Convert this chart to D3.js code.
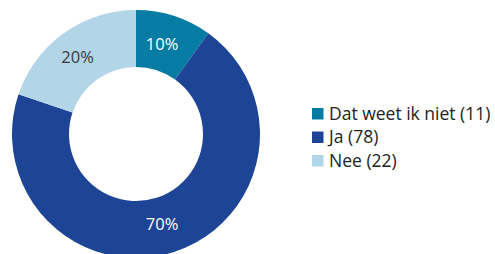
<!DOCTYPE html>
<html>
<head>
<meta charset="utf-8">
<script src="https://cdn.jsdelivr.net/npm/d3@7"></script>
<style>
  body { margin: 0; background: #fff; }
  svg { display: block; font-family: 'Open Sans', sans-serif; }
</style>
</head>
<body>
<script>
const categories = ['Dat weet ik niet', 'Ja', 'Nee'];
const counts = [11, 78, 22];
const pctLabels = ['10%', '70%', '20%'];
const colors = ['#067ba3', '#1e4595', '#b2d5e7'];
const labelColors = ['#ffffff', '#ffffff', '#3a3a3a'];

const width = 495;
const height = 254;
const cx = 136, cy = 134;
const outerR = 124, innerR = 67;

const svg = d3.select('body')
    .append('svg')
    .attr('width', width)
    .attr('height', height);

const pie = d3.pie()
    .value(d => d)
    .sort(null);

const arc = d3.arc()
    .innerRadius(innerR)
    .outerRadius(outerR);

const labelArc = d3.arc()
    .innerRadius(95)
    .outerRadius(95);

const arcs = pie(counts);

const g = svg.append('g')
    .attr('transform', `translate(${cx},${cy})`);

g.selectAll('path')
    .data(arcs)
    .enter()
    .append('path')
    .attr('d', arc)
    .attr('fill', (d, i) => colors[i]);

g.selectAll('text')
    .data(arcs)
    .enter()
    .append('text')
    .attr('x', d => labelArc.centroid(d)[0] - 3)
    .attr('y', d => labelArc.centroid(d)[1] + 6)
    .attr('text-anchor', 'middle')
    .attr('font-size', 16.5)
    .attr('fill', (d, i) => labelColors[i])
    .text((d, i) => pctLabels[i]);

const legend = svg.append('g')
    .attr('transform', 'translate(312,108)');

const row = legend.selectAll('g')
    .data(categories)
    .enter()
    .append('g')
    .attr('transform', (d, i) => `translate(0,${i * 23.5})`);

row.append('rect')
    .attr('width', 11.5)
    .attr('height', 11.5)
    .attr('fill', (d, i) => colors[i]);

row.append('text')
    .attr('x', 17)
    .attr('y', 11.5)
    .attr('font-size', 17.5)
    .attr('fill', '#222')
    .text((d, i) => `${d} (${counts[i]})`);
</script>
</body>
</html>
